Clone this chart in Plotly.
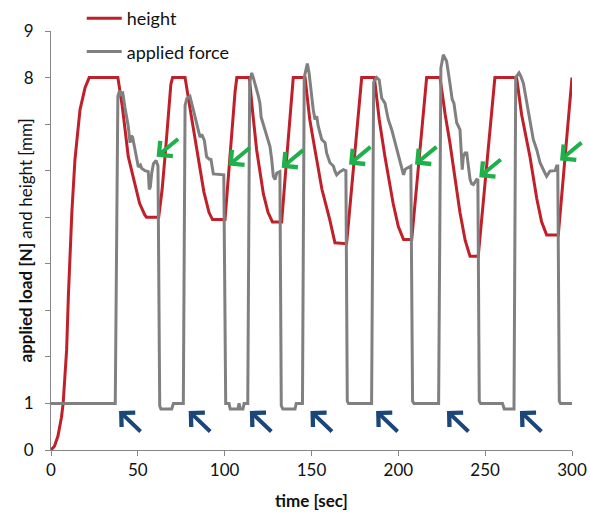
import plotly.graph_objects as go

# ---- data ----
t_height = [0, 2, 4, 6, 7, 8, 9, 10, 12, 13.8, 16.7, 19.6, 21.5, 22,
            38.5, 41, 44.5, 48.4, 51, 54, 55, 62, 64, 66, 68, 69, 70,
            77.2, 80, 84, 88, 91, 93, 100.2, 104, 106, 107,
            114.2, 116, 118.4, 122.3, 125, 127.5, 132.8, 136, 138.5, 139.5,
            146.3, 149, 152, 156, 160.5, 163.5, 170.2, 174, 177.5, 178.9,
            186.2, 189, 192.3, 197, 200, 203, 207.7, 212, 215, 216.3,
            224, 227, 229.7, 235.5, 238.5, 241.3, 246, 251, 254.5, 255.6,
            268.1, 271, 275.8, 279.7, 282.5, 285.4, 292.1, 296, 300]
height = [0, 0.08, 0.3, 0.7, 1.0, 1.5, 2.15, 3.3, 5.1, 6.24, 7.31, 7.78, 7.95, 8.0,
          8.0, 7.4, 6.3, 5.66, 5.3, 5.05, 5.0, 5.0, 5.6, 6.45, 7.4, 7.85, 8.0,
          8.0, 7.35, 6.45, 5.55, 5.1, 4.95, 4.95, 6.8, 7.7, 8.0,
          8.0, 7.3, 6.45, 5.5, 5.1, 4.9, 4.9, 6.4, 7.7, 8.0,
          8.0, 7.1, 6.45, 5.6, 4.95, 4.45, 4.43, 6.0, 7.6, 8.0,
          8.0, 7.1, 6.3, 5.3, 4.8, 4.52, 4.52, 6.3, 7.6, 8.0,
          8.0, 7.2, 6.6, 5.1, 4.5, 4.16, 4.16, 6.2, 7.6, 8.0,
          8.0, 7.2, 6.3, 5.4, 4.9, 4.62, 4.62, 6.3, 8.0]

t_force = [0, 37, 38.5, 39.5, 40.5, 41.2, 42.6, 44.5, 45.5, 46.2, 47, 48.4, 49.5, 50.3,
           51.5, 52.2, 54.1, 56, 56.6, 57.2, 58, 59, 60.5, 61.6, 62.6, 63.3, 69.5, 70.5, 76.2,
           77.2, 78.2, 80, 82, 83.9, 85, 85.8, 86.8, 88.3, 89.6, 91, 92.1, 93.5, 99.5,
           100.6, 102.5, 103.2, 107.6, 108.3, 109, 110.5, 111.2, 113.3,
           114.4, 115.6, 116.5, 117.5, 119.4, 120.3, 121, 121.8, 123.2, 124, 126.1, 127.1,
           128, 129, 130, 131.8, 132.6, 133.5, 140.5, 141.2, 144.8,
           145.8, 147.6, 148.6, 149.5, 151, 152, 153, 153.9, 155.9, 157.8, 158.7, 160.6,
           162.6, 163.5, 164.5, 166.4, 168.4, 169.8, 170.6, 171.3, 184.6,
           185.8, 187.5, 189, 190.4, 192.3, 194.2, 196.2, 198.1, 200, 201.9, 203, 204,
           205.7, 207.2, 208.2, 209, 223.2,
           224.5, 225.9, 227.8, 229.7, 231, 232, 233.6, 235.5, 236.3, 236.8, 237.4, 238.4,
           239.4, 240.3, 241.3, 242.2, 243.2, 245.1, 245.8, 246.6, 247.4, 260, 261, 266.6,
           267.6, 269.5, 270.5, 272, 273.9, 275.8, 277.7, 279.7, 281.6, 284.4, 285.4, 287.3,
           290.2, 291.2, 291.8, 292.7, 293.4, 300]
force = [1.0, 1.0, 7.6, 7.72, 7.6, 7.7, 7.35, 6.95, 6.6, 6.75, 6.72, 6.45, 6.2, 6.08,
         6.12, 6.05, 6.0, 5.98, 5.6, 5.65, 5.95, 6.15, 6.22, 6.1, 0.95, 0.88, 0.88, 1.0, 1.0,
         7.4, 7.55, 7.6, 7.3, 7.0, 6.85, 6.72, 6.78, 6.65, 6.3, 6.25, 6.24, 5.93, 5.91,
         1.0, 1.0, 0.88, 0.88, 1.0, 0.88, 0.88, 1.0, 1.0,
         7.9, 8.1, 8.0, 7.88, 7.6, 7.45, 7.15, 7.05, 6.88, 6.74, 6.52, 6.24,
         5.88, 5.81, 5.95, 5.98, 0.95, 0.88, 0.88, 1.0, 1.0,
         8.0, 8.3, 8.1, 7.79, 7.31, 7.1, 7.17, 6.95, 6.67, 6.6, 6.38, 6.17,
         6.1, 5.99, 5.91, 5.98, 6.02, 6.0, 1.05, 1.0, 1.0,
         7.9, 8.0, 7.95, 7.56, 7.45, 7.1, 6.88, 6.6, 6.31, 6.09, 5.91, 6.03,
         6.06, 6.1, 1.05, 1.0, 1.0,
         8.2, 8.49, 8.35, 7.88, 7.53, 7.45, 7.03, 6.88, 6.45, 6.02, 6.3, 6.38,
         6.38, 6.09, 5.81, 5.72, 5.7, 5.81, 5.8, 1.05, 1.0, 1.0, 0.88, 0.88,
         8.0, 8.1, 8.03, 7.88, 7.46, 7.03, 6.67, 6.45, 6.17, 5.95, 5.88, 5.99,
         6.0, 6.1, 6.1, 1.05, 1.0, 1.0]

# arrow markers (tip positions, in data units)
blue_tip_t = [39.2, 79.3, 114.5, 149.4, 187.2, 228, 270]
blue_tip_y = [0.84, 0.84, 0.84, 0.84, 0.84, 0.84, 0.84]
green_tip_t = [60.8, 102.1, 132.8, 171.6, 209.6, 246.6, 293.1]
green_tip_y = [6.3, 6.11, 6.06, 6.13, 6.13, 5.86, 6.22]

x_tick_vals = [0, 50, 100, 150, 200, 250, 300]
y_tick_vals = [0, 1, 2, 3, 4, 5, 6, 7, 8, 9]
y_tick_text = ["0", "1", "", "", "", "", "", "", "8", "9"]

FONT = "Lato"
AXIS_COL = "#868686"

fig = go.Figure()
fig.add_trace(go.Scatter(x=t_height, y=height, mode="lines", name="height",
                         legendgroup="a",
                         line=dict(color="#C0202A", width=3)))
fig.add_trace(go.Scatter(x=t_force, y=force, mode="lines", name="applied force",
                         legendgroup="b",
                         line=dict(color="#808080", width=3)))

annotations = []
for tx, ty in zip(blue_tip_t, blue_tip_y):
    annotations.append(dict(x=tx, y=ty, xref="x", yref="y", text="", showarrow=True,
                            ax=23, ay=22, arrowhead=4, arrowsize=0.95, arrowwidth=4,
                            arrowcolor="#1B4679", standoff=0))
for tx, ty in zip(green_tip_t, green_tip_y):
    annotations.append(dict(x=tx, y=ty, xref="x", yref="y", text="", showarrow=True,
                            ax=23, ay=-19, arrowhead=4, arrowsize=0.95, arrowwidth=4,
                            arrowcolor="#1DB04B", standoff=0))
annotations.append(dict(x=-0.048, y=0.5, xref="paper", yref="paper",
                        text="<b>applied load [N]</b> and height [mm]", textangle=-90,
                        showarrow=False, font=dict(family=FONT, size=17, color="#111111"),
                        xanchor="center", yanchor="middle"))

fig.update_layout(
    width=590, height=513,
    margin=dict(l=51, r=18, t=31, b=63, autoexpand=False),
    paper_bgcolor="white", plot_bgcolor="white",
    font=dict(family=FONT, size=17, color="#111111"),
    showlegend=True,
    legend=dict(x=0.059, y=1.074, xanchor="left", yanchor="top",
                bgcolor="rgba(0,0,0,0)", tracegroupgap=7, itemwidth=35,
                font=dict(family=FONT, size=18, color="#111111")),
    xaxis=dict(range=[0, 300], tickvals=x_tick_vals, showgrid=False, zeroline=False,
               showline=True, linecolor=AXIS_COL, linewidth=1,
               ticks="outside", ticklen=5, tickcolor=AXIS_COL, automargin=False,
               title=dict(text="<b>time [sec]</b>", standoff=15,
                          font=dict(family=FONT, size=17))),
    yaxis=dict(range=[0, 9], tickvals=y_tick_vals, ticktext=y_tick_text,
               showgrid=False, zeroline=False, automargin=False,
               showline=True, linecolor=AXIS_COL, linewidth=1,
               ticks="outside", ticklen=5, tickcolor=AXIS_COL, ticklabelstandoff=8),
    annotations=annotations,
)

fig.write_html("out.html", config={"displayModeBar": False},
               post_script="document.body.style.margin='0';")
